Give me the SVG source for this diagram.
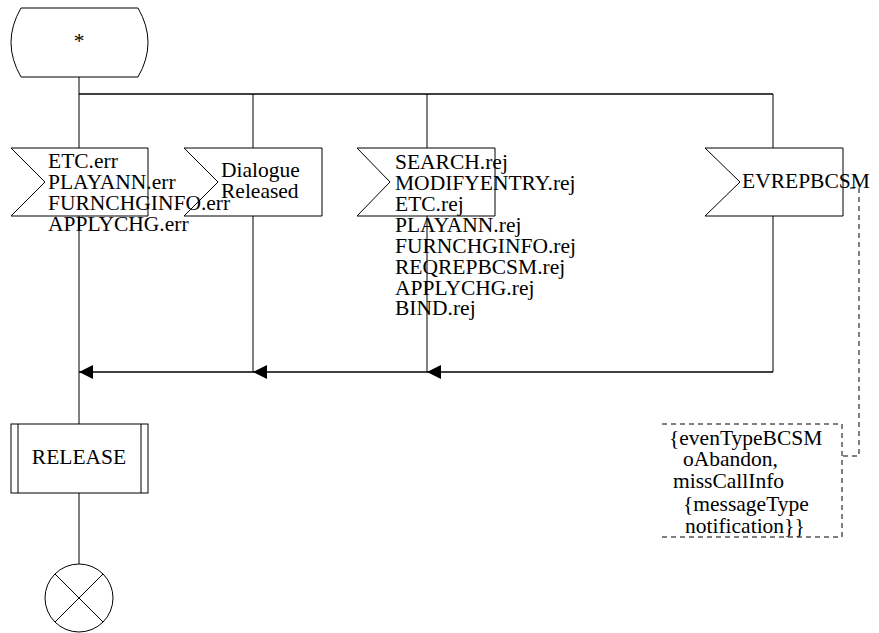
<svg xmlns="http://www.w3.org/2000/svg" width="879" height="633" viewBox="0 0 879 633">
  <style>
    .shape { fill: none; stroke: #000000; stroke-width: 1; }
    .line { fill: none; stroke: #000000; stroke-width: 1; }
    .bus { fill: none; stroke: #000000; stroke-width: 1.5; }
    .dash { fill: none; stroke: #000000; stroke-width: 1; stroke-dasharray: 5 4; }
    .head { fill: #000000; stroke: none; }
    text { font-family: "Liberation Serif", "Times New Roman", serif; font-size: 21.5px; fill: #000000; }
    .mid { text-anchor: middle; }
  </style>

  <!-- connectors -->
  <g id="connectors">
    <!-- from start state down to the branch bus -->
    <line class="line" x1="79" y1="77" x2="79" y2="94"/>
    <line class="bus" x1="79" y1="94" x2="773" y2="94"/>
    <line class="line" x1="79" y1="94" x2="79" y2="148"/>
    <line class="line" x1="253" y1="94" x2="253" y2="148"/>
    <line class="line" x1="427" y1="94" x2="427" y2="148"/>
    <line class="line" x1="773" y1="94" x2="773" y2="148"/>
    <!-- from inputs down to the merge line -->
    <line class="line" x1="79" y1="216" x2="79" y2="372"/>
    <line class="line" x1="253" y1="216" x2="253" y2="372"/>
    <line class="line" x1="427" y1="216" x2="427" y2="372"/>
    <line class="line" x1="773" y1="216" x2="773" y2="372"/>
    <line class="bus" x1="79" y1="372" x2="773" y2="372"/>
    <polygon class="head" points="79,372 93,365 93,379"/>
    <polygon class="head" points="253,372 267,365 267,379"/>
    <polygon class="head" points="427,372 441,365 441,379"/>
    <!-- merge to RELEASE and on to stop -->
    <line class="line" x1="79" y1="372" x2="79" y2="424"/>
    <line class="line" x1="79" y1="493" x2="79" y2="564"/>
    <!-- comment attachment -->
    <polyline class="dash" points="850,188 859,188 859,456 842,456"/>
  </g>

  <!-- start state -->
  <g id="state-any">
    <path class="shape" d="M21,8 L138,8 Q158,42.5 138,77 L21,77 Q1,42.5 21,8 Z"/>
    <text class="mid" x="79" y="48">*</text>
  </g>

  <!-- input: error results -->
  <g id="input-err">
    <polygon class="shape" points="11,148 148,148 148,216 11,216 45,182"/>
    <text x="48" y="168">ETC.err</text>
    <text x="48" y="189">PLAYANN.err</text>
    <text x="48" y="210">FURNCHGINFO.err</text>
    <text x="48" y="231">APPLYCHG.err</text>
  </g>

  <!-- input: dialogue released -->
  <g id="input-dialogue">
    <polygon class="shape" points="184,148 322,148 322,216 184,216 218,182"/>
    <text x="221" y="177">Dialogue</text>
    <text x="221" y="198">Released</text>
  </g>

  <!-- input: rejections -->
  <g id="input-rej">
    <polygon class="shape" points="357,148 495,148 495,216 357,216 390,182"/>
    <text x="395" y="169">SEARCH.rej</text>
    <text x="395" y="190">MODIFYENTRY.rej</text>
    <text x="395" y="211">ETC.rej</text>
    <text x="395" y="232">PLAYANN.rej</text>
    <text x="395" y="253">FURNCHGINFO.rej</text>
    <text x="395" y="274">REQREPBCSM.rej</text>
    <text x="395" y="295">APPLYCHG.rej</text>
    <text x="395" y="315">BIND.rej</text>
  </g>

  <!-- input: event report -->
  <g id="input-evrep">
    <polygon class="shape" points="705,148 843,148 843,216 705,216 740,182"/>
    <text x="742" y="188">EVREPBCSM</text>
  </g>

  <!-- comment bracket -->
  <g id="comment">
    <polyline class="dash" points="662,424 842,424 842,537 662,537"/>
    <text x="669" y="445">{evenTypeBCSM</text>
    <text x="683" y="466">oAbandon,</text>
    <text x="673" y="488">missCallInfo</text>
    <text x="683" y="511">{messageType</text>
    <text x="685" y="533">notification}}</text>
  </g>

  <!-- procedure call -->
  <g id="proc-release">
    <rect class="shape" x="11" y="424" width="137" height="69"/>
    <line class="line" x1="18" y1="424" x2="18" y2="493"/>
    <line class="line" x1="141" y1="424" x2="141" y2="493"/>
    <text class="mid" x="79" y="464">RELEASE</text>
  </g>

  <!-- stop -->
  <g id="stop">
    <circle class="shape" cx="79" cy="598" r="34"/>
    <line class="line" x1="55" y1="574" x2="103" y2="622"/>
    <line class="line" x1="103" y1="574" x2="55" y2="622"/>
  </g>
</svg>
